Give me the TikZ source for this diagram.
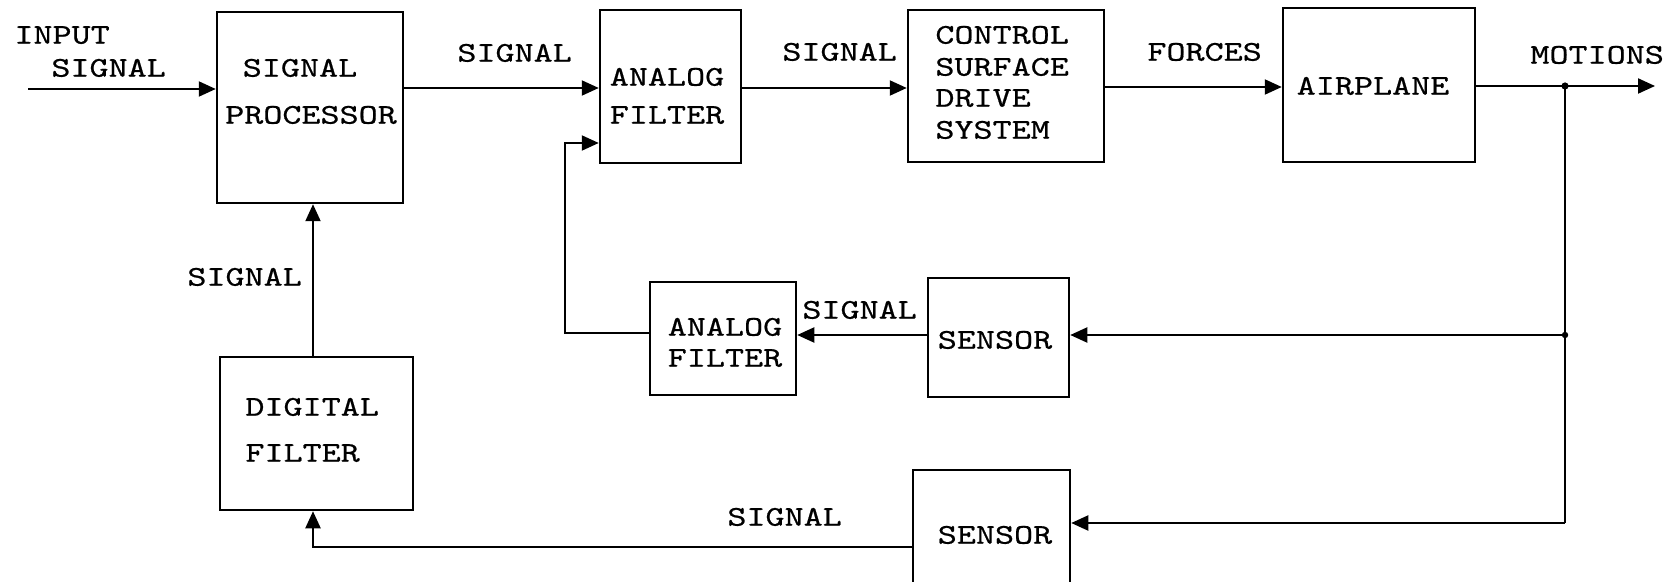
\documentclass[tikz,border=0pt]{standalone}
\usepackage{fontspec}
\newfontfamily\tw{lmmono10-regular.otf}[FakeStretch=1.27,FakeBold=0.6]
\usetikzlibrary{arrows.meta}
\tikzset{
  box/.style={draw, line width=1.25pt, inner sep=0pt},
  lbl/.style={font={\tw\fontsize{14.3pt}{16pt}\selectfont}, inner sep=0pt, text height=8.7pt, text depth=0pt},
  arr/.style={line width=1.05pt, -{Triangle[length=8.5pt,width=7.5pt]}},
  ln/.style={line width=1.05pt},
}
\begin{document}
\begin{tikzpicture}[x=0.5pt,y=-0.5pt]
\clip (0,0) rectangle (1668,582);
% boxes
\node[box, minimum width=93pt, minimum height=95.5pt] (sp) at (310,107.5) {};
\node[box, minimum width=70.5pt, minimum height=76.5pt] (af1) at (670.5,86.5) {};
\node[box, minimum width=98pt, minimum height=76pt] (csds) at (1006,86) {};
\node[box, minimum width=96pt, minimum height=77pt] (ap) at (1379,85) {};
\node[box, minimum width=96.5pt, minimum height=76.5pt] (df) at (316.5,433.5) {};
\node[box, minimum width=73pt, minimum height=56.5pt] (af2) at (723,338.5) {};
\node[box, minimum width=70.5pt, minimum height=59.5pt] (s1) at (998.5,337.5) {};
\node[box, minimum width=78.5pt, minimum height=75pt] (s2) at (991.5,545) {};
% box texts
\node[lbl] (sp-a) at (300,68) {SIGNAL};
\node[lbl] (sp-b) at (311,115) {PROCESSOR};
\node[lbl] (af1-a) at (667,77) {ANALOG};
\node[lbl] (af1-b) at (667,115) {FILTER};
\node[lbl, anchor=west] (cs-a) at (935,35) {CONTROL};
\node[lbl, anchor=west] (cs-b) at (935,67) {SURFACE};
\node[lbl, anchor=west] (cs-c) at (935,98) {DRIVE};
\node[lbl, anchor=west] (cs-d) at (935,130) {SYSTEM};
\node[lbl] (ap-a) at (1373,86) {AIRPLANE};
\node[lbl, anchor=west] (df-a) at (245,407) {DIGITAL};
\node[lbl, anchor=west] (df-b) at (245,453) {FILTER};
\node[lbl] (af2-a) at (725,327) {ANALOG};
\node[lbl] (af2-b) at (725,358) {FILTER};
\node[lbl] (s1-a) at (995,340) {SENSOR};
\node[lbl] (s2-a) at (995,535) {SENSOR};
% free labels
\node[lbl, anchor=west] (l-in1) at (14,35) {INPUT};
\node[lbl, anchor=west] (l-in2) at (51,68) {SIGNAL};
\node[lbl, anchor=west] (l-s1) at (457,53) {SIGNAL};
\node[lbl, anchor=west] (l-s2) at (782,52) {SIGNAL};
\node[lbl, anchor=west] (l-f) at (1147,52) {FORCES};
\node[lbl, anchor=west] (l-m) at (1530,55) {MOTIONS};
\node[lbl, anchor=west] (l-s3) at (187,277) {SIGNAL};
\node[lbl, anchor=west] (l-s4) at (802,310) {SIGNAL};
\node[lbl, anchor=west] (l-s5) at (727,517) {SIGNAL};
% coordinates
\coordinate (in) at (28,89);
\coordinate (j1) at (1565,86);
\coordinate (out) at (1655,86);
\coordinate (j2) at (1565,335);
\coordinate (j3) at (1565,523);
\coordinate (c1) at (565,333);
\coordinate (c2) at (565,143);
\coordinate (c3) at (313,547);
% connectors
\draw[arr] (in) -- (in -| sp.west);
\draw[arr] (sp.east |- 0,88) -- (af1.west |- 0,88);
\draw[arr] (af1.east |- 0,88) -- (csds.west |- 0,88);
\draw[arr] (csds.east |- 0,87) -- (ap.west |- 0,87);
\draw[arr] (ap.east |- j1) -- (out);
\draw[ln] (j1) -- (j3);
\draw[arr] (j2) -- (s1.east |- j2);
\draw[arr] (j3) -- (s2.east |- j3);
\draw[arr] (s1.west |- j2) -- (af2.east |- j2);
\draw[arr] (af2.west |- c1) -- (c1) -- (c2) -- (af1.west |- c2);
\draw[arr] (s2.west |- c3) -- (c3) -- (df.south -| c3);
\draw[arr] (df.north -| c3) -- (sp.south -| c3);
\fill (j1) circle (1.8pt);
\fill (j2) circle (1.6pt);
\end{tikzpicture}
\end{document}
